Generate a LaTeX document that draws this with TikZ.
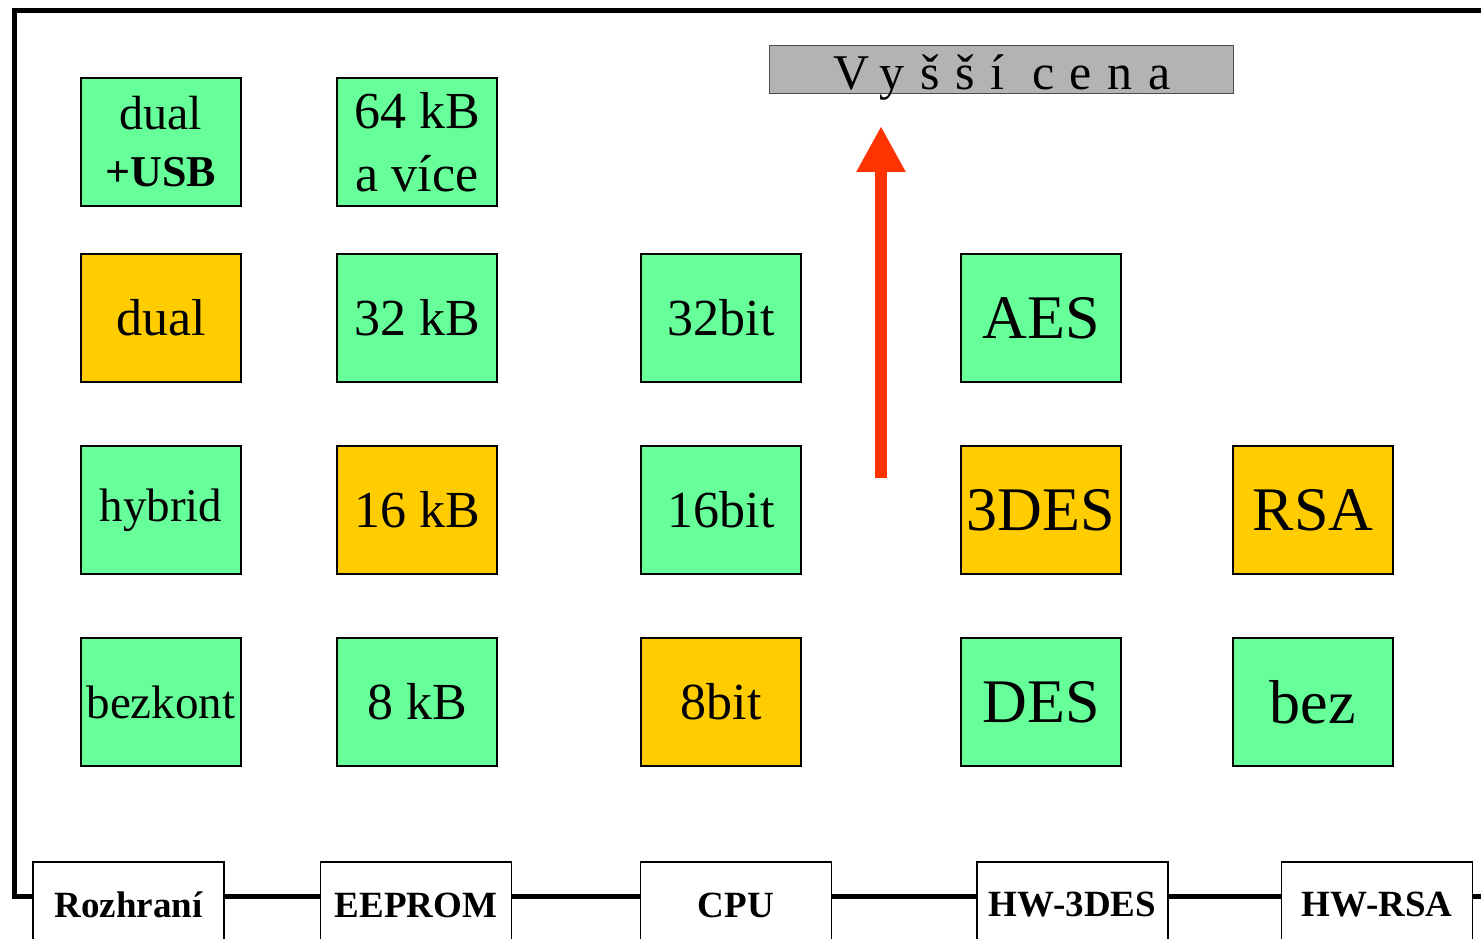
\documentclass[tikz,border=0pt]{standalone}
\usepackage{fontspec}
\setmainfont{Liberation Serif}
\newfontfamily\spacedfont[LetterSpace=31]{Liberation Serif}
\usetikzlibrary{arrows.meta}
\definecolor{cellgreen}{HTML}{66FF99}
\definecolor{cellorange}{HTML}{FFCC00}
\definecolor{arrowred}{HTML}{FF3300}
\definecolor{bargray}{HTML}{B3B3B3}
\tikzset{
  cell/.style={draw=black, line width=1.3pt, minimum width=160pt, minimum height=128pt, inner sep=0pt, align=center},
  gcell/.style={cell, fill=cellgreen},
  ocell/.style={cell, fill=cellorange},
  midtxt/.style={font=\fontsize{52}{60}\selectfont},
  bigtxt/.style={font=\fontsize{62}{70}\selectfont},
  smalltxt/.style={font=\fontsize{47}{56}\selectfont},
  busbox/.style={draw=black, line width=1.5pt, fill=white, minimum width=191pt, minimum height=86pt, inner sep=0pt, font=\bfseries\fontsize{37}{40}\selectfont},
  busline/.style={draw=black, line width=5pt},
  redarrow/.style={draw=arrowred, line width=12pt, -{Triangle[width=46pt,length=46pt]}},
  pricebar/.style={draw=black!70, line width=1pt, fill=bargray, minimum width=464pt, minimum height=48pt, inner sep=0pt}
}
\begin{document}
\begin{tikzpicture}[x=1pt,y=-1pt]
\useasboundingbox (0,0) rectangle (1481,939);
\clip (0,0) rectangle (1481,939);
% frame coordinates
\coordinate (frametr) at (1495,11);
\coordinate (frametl) at (14,11);
\coordinate (framebl) at (14,896);
\coordinate (busend) at (1495,896);
% bus boxes
\node[busbox] (rozh) at (128.5,905) {Rozhraní};
\node[busbox] (eeprom) at (416,905) {EEPROM};
\node[busbox] (cpu) at (736,905) {CPU};
\node[busbox] (hw3des) at (1072.5,905) {HW-3DES};
\node[busbox] (hwrsa) at (1377,905) {HW-RSA};
% frame and bus
\draw[busline, line join=miter] (frametr) -- (frametl) -- (framebl) -- (rozh.west |- framebl);
\draw[busline] (rozh.east |- framebl) -- (eeprom.west |- framebl);
\draw[busline] (eeprom.east |- framebl) -- (cpu.west |- framebl);
\draw[busline] (cpu.east |- framebl) -- (hw3des.west |- framebl);
\draw[busline] (hw3des.east |- framebl) -- (hwrsa.west |- framebl);
\draw[busline] (hwrsa.east |- framebl) -- (busend);
% column 1: Rozhrani
\node[gcell, font=\fontsize{48}{57}\selectfont] (c1r1) at (161,142) {dual\\\bfseries\fontsize{44}{57}\selectfont +USB};
\node[ocell, midtxt] (c1r2) at (161,318) {dual};
\node[gcell, smalltxt] (c1r3) at (161,510) {hybrid};
\node[gcell, smalltxt] (c1r4) at (161,702) {bezkont};
% column 2: EEPROM
\node[gcell, font=\fontsize{52}{63}\selectfont] (c2r1) at (417,142) {64 kB\\a více};
\node[gcell, midtxt] (c2r2) at (417,318) {32 kB};
\node[ocell, midtxt] (c2r3) at (417,510) {16 kB};
\node[gcell, midtxt] (c2r4) at (417,702) {8 kB};
% column 3: CPU
\node[gcell, midtxt] (c3r2) at (721,318) {32bit};
\node[gcell, midtxt] (c3r3) at (721,510) {16bit};
\node[ocell, midtxt] (c3r4) at (721,702) {8bit};
% column 4: HW-3DES
\node[gcell, bigtxt] (c4r2) at (1041,318) {AES};
\node[ocell, bigtxt] (c4r3) at (1041,510) {3DES};
\node[gcell, bigtxt] (c4r4) at (1041,702) {DES};
% column 5: HW-RSA
\node[ocell, bigtxt] (c5r3) at (1313,510) {RSA};
\node[gcell, bigtxt] (c5r4) at (1313,702) {bez};
% price bar
\node[pricebar] (bar) at (1001,70) {};
\node[anchor=base, inner sep=0pt, font=\spacedfont\fontsize{50}{56}\selectfont] (bartext) at (1002,90) {Vyšší cena};
% arrow
\coordinate (arrowfoot) at (881,478);
\coordinate (arrowtip) at (881,126);
\draw[redarrow] (arrowfoot) -- (arrowtip);
\end{tikzpicture}
\end{document}
